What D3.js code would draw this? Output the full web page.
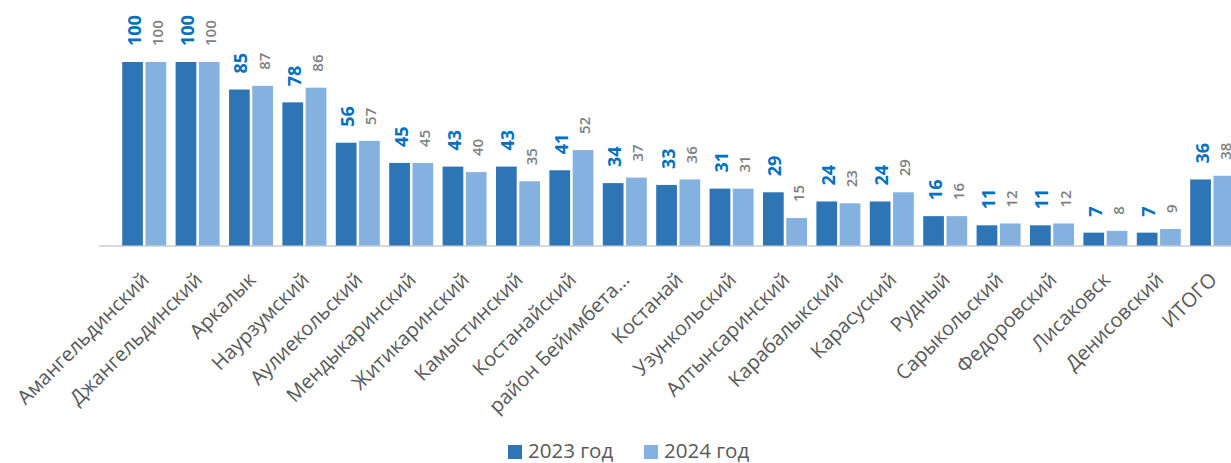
<!DOCTYPE html>
<html><head><meta charset="utf-8">
<script src="https://cdn.jsdelivr.net/npm/d3@7"></script>
<style>
html,body{margin:0;padding:0;background:#fff;}
svg{display:block;}
</style></head>
<body>
<svg id="chart" width="1231" height="463"></svg>
<script>
const categories = ["Амангельдинский","Джангельдинский","Аркалык","Наурзумский","Аулиекольский","Мендыкаринский","Житикаринский","Камыстинский","Костанайский","район Бейимбета…","Костанай","Узункольский","Алтынсаринский","Карабалыкский","Карасуский","Рудный","Сарыкольский","Федоровский","Лисаковск","Денисовский","ИТОГО"];
const values2023 = [100,100,85,78,56,45,43,43,41,34,33,31,29,24,24,16,11,11,7,7,36];
const values2024 = [100,100,87,86,57,45,40,35,52,37,36,31,15,23,29,16,12,12,8,9,38];
const seriesNames = ["2023 год","2024 год"];

const colors = ["#2E75B6","#84B1DF"];
const labelColors = ["#0070C0","#7F7F7F"];

const svg = d3.select("#chart");
const baseY = 245.5;
const x0 = d3.scaleBand().domain(categories).range([117.5, 117.5 + 21*53.4]).paddingInner(0.176).paddingOuter(0.088);
const x1 = d3.scaleBand().domain([0,1]).range([0, x0.bandwidth()]).paddingInner(0.11);
const y = d3.scaleLinear().domain([0,100]).range([baseY, 62]);

const data = categories.map((c,i)=>({cat:c, vals:[values2023[i], values2024[i]]}));

// axis line
svg.append("line").attr("x1",99).attr("x2",1231).attr("y1",baseY+0.5).attr("y2",baseY+0.5)
  .attr("stroke","#d9d9d9").attr("stroke-width",2);

const g = svg.append("g").selectAll("g").data(data).join("g")
  .attr("transform", d=>`translate(${x0(d.cat)},0)`);

g.selectAll("rect").data(d=>d.vals.map((v,k)=>({v,k}))).join("rect")
  .attr("x", d=>x1(d.k)).attr("width", x1.bandwidth())
  .attr("y", d=>y(d.v)).attr("height", d=>baseY - y(d.v))
  .attr("fill", d=>colors[d.k]);

g.selectAll("text.lbl").data(d=>d.vals.map((v,k)=>({v,k}))).join("text")
  .attr("class","lbl")
  .attr("transform", d=>`translate(${x1(d.k)+x1.bandwidth()/2 + 1.5},${y(d.v)-16}) rotate(-90)`)
  .attr("dy","0.36em")
  .attr("text-anchor","start")
  .attr("font-family","'Open Sans', sans-serif")
  .attr("font-size", d=>d.k===0?"18px":"15px")
  .attr("font-weight", d=>d.k===0?"700":"600")
  .attr("fill", d=>labelColors[d.k])
  .text(d=>d.v);

// category labels
svg.append("g").selectAll("text").data(categories).join("text")
  .attr("transform", c=>`translate(${x0(c)+x0.bandwidth()/2+6},281) rotate(-45)`)
  .attr("text-anchor","end")
  .attr("font-family","'Open Sans', sans-serif")
  .attr("font-size","20px")
  .attr("fill","#595959")
  .text(c=>c);

// legend
const legendX = [508, 644];
const leg = svg.append("g").selectAll("g").data(seriesNames).join("g")
  .attr("transform",(d,i)=>`translate(${legendX[i]},444)`);
leg.append("rect").attr("y",1).attr("width",14).attr("height",14).attr("fill",(d,i)=>colors[i]);
leg.append("text").attr("x",20).attr("y",14)
  .attr("font-family","'Open Sans', sans-serif").attr("font-size","20.5px").attr("fill","#595959")
  .text(d=>d);
</script>
</body></html>
